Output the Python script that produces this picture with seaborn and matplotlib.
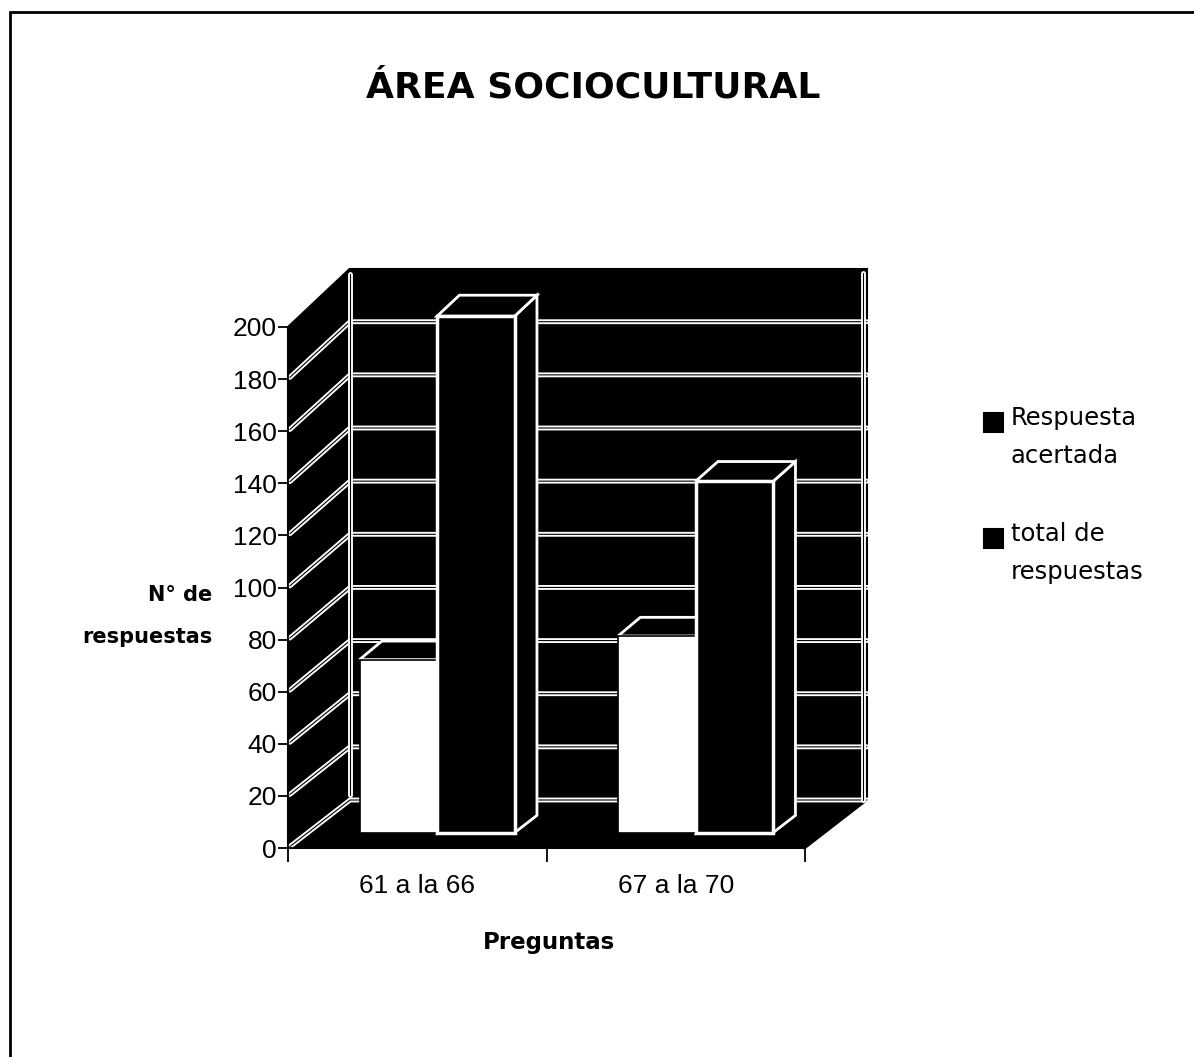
import pandas as pd
import matplotlib
matplotlib.use('Agg')
import matplotlib.pyplot as plt
import seaborn as sns
from matplotlib.patches import Polygon, Rectangle
from matplotlib.lines import Line2D
from matplotlib.transforms import Affine2D, IdentityTransform

# Data
preguntas = ['61 a la 66', '67 a la 70']
series = ['Respuesta acertada', 'total de respuestas']
acertadas = [66, 75]
totales = [197, 134]

df = pd.DataFrame({
    'pregunta': preguntas * 2,
    'serie': [series[0]] * len(preguntas) + [series[1]] * len(preguntas),
    'valor': acertadas + totales,
})

sns.set_style('white')
plt.rcParams['font.family'] = ['Liberation Sans', 'DejaVu Sans']
for k in ['text.color', 'axes.labelcolor', 'xtick.color', 'ytick.color']:
    plt.rcParams[k] = 'black'

W, H = 1194, 1057
fig = plt.figure(figsize=(W / 100, H / 100), dpi=100)
ax = fig.add_axes([288 / W, 1 - 848 / H, 517 / W, 521 / H])
ax.set_facecolor('none')

sns.barplot(data=df, x='pregunta', y='valor', hue='serie', palette=['white', 'black'],
            width=0.6, saturation=1, legend=False, ax=ax)
ax.set_xlim(-0.5, 1.5)
ax.set_ylim(0, 200)

# fake 3D: depth offset in pixels (slight perspective)
DX, DY, K = 62, 48, 1.02
y0 = ax.transData.transform((0, 0))[1]


def proj(x, v, d):
    fx, fy = ax.transData.transform((x, v))
    by = y0 + DY + (fy - y0) * K
    return (fx + DX * d, fy + (by - fy) * d)


def poly(pts, fc, ec='white', lw=2, z=1):
    ax.add_patch(Polygon(pts, closed=True, facecolor=fc, edgecolor=ec, lw=lw,
                         transform=IdentityTransform(), clip_on=False, zorder=z))


def line(pts, z=1.2):
    xs, ys = zip(*pts)
    for c, lw in (('white', 3.5), ('black', 0.8)):
        ax.add_line(Line2D(xs, ys, color=c, lw=lw, transform=IdentityTransform(),
                           clip_on=False, zorder=z))


x_lo, x_hi = ax.get_xlim()
v_top = 200
# walls and floor
poly([proj(x_lo, 0, 1), proj(x_hi, 0, 1), proj(x_hi, v_top, 1), proj(x_lo, v_top, 1)], 'black', 'black', 1.5, 0.5)
poly([proj(x_lo, 0, 0), proj(x_lo, 0, 1), proj(x_lo, v_top, 1), proj(x_lo, v_top, 0)], 'black', 'black', 1.5, 0.5)
poly([proj(x_lo, 0, 0), proj(x_hi, 0, 0), proj(x_hi, 0, 1), proj(x_lo, 0, 1)], 'black', 'black', 1.5, 0.5)

for v in range(0, 200, 20):
    line([proj(x_lo, v, 0.03), proj(x_lo, v, 1), proj(x_hi, v, 1)])
line([proj(x_lo, 2, 1), proj(x_lo, v_top - 2, 1)])
line([(proj(x_hi, 0, 1)[0] - 4, proj(x_hi, 0, 1)[1]), (proj(x_hi, v_top, 1)[0] - 4, proj(x_hi, v_top, 1)[1] - 4)])

# bars: shift front face back in depth, add top and side faces
D1, D2 = 0.32, 0.68
bars = sorted(ax.patches[:len(df)], key=lambda p: p.get_x())
for i, p in enumerate(bars):
    x0, w, h = p.get_x(), p.get_width(), p.get_height()
    z = 3 + i
    poly([proj(x0 + w, 0, D1), proj(x0 + w, h, D1), proj(x0 + w, h, D2), proj(x0 + w, 0, D2)], 'black', 'white', 2, z)
    poly([proj(x0, h, D1), proj(x0 + w, h, D1), proj(x0 + w, h, D2), proj(x0, h, D2)], 'black', 'white', 2, z)
    shift = (Affine2D().translate(0, -y0).scale(1, 1 + D1 * (K - 1))
             .translate(D1 * DX, y0 + D1 * DY))
    p.set_transform(ax.transData + shift)
    p.set_clip_on(False)
    p.set_zorder(z + 0.5)
    dark = sum(p.get_facecolor()[:3]) < 1.5
    p.set_edgecolor('white' if dark else 'black')
    p.set_linewidth(2.5 if dark else 1.2)

# axes
for s in ['top', 'right']:
    ax.spines[s].set_visible(False)
for s in ['left', 'bottom']:
    ax.spines[s].set_color('black')
    ax.spines[s].set_linewidth(1.3)
    ax.spines[s].set_zorder(10)
ax.set_yticks(range(0, 201, 20))
ax.tick_params(axis='y', direction='out', length=7, width=1.3, labelsize=19, pad=1, left=True)
ax.set_xticks([0, 1], preguntas)
ax.set_xticks([-0.5, 0.5, 1.5], minor=True)
ax.tick_params(axis='x', which='major', length=0, labelsize=19, pad=19)
ax.tick_params(axis='x', which='minor', direction='out', length=10, width=1.3, bottom=True)
ax.set_xlabel('')
ax.set_ylabel('')

bold = dict(family='DejaVu Sans', weight='bold')
fig.text(593 / W, 1 - 88 / H, 'ÁREA SOCIOCULTURAL', ha='center', va='center', fontsize=26, **bold)
fig.text(549 / W, 1 - 942 / H, 'Preguntas', ha='center', va='center', fontsize=16.5, **bold)
fig.text(212 / W, 1 - 616 / H, 'N° de\nrespuestas', ha='right', va='center', multialignment='right',
         fontsize=15, linespacing=2.4, **bold)

handles = [Rectangle((0, 0), 1, 1, facecolor='black', edgecolor='black', lw=1.5) for _ in series]
leg = fig.legend(handles, ['Respuesta\nacertada', 'total de\nrespuestas'], loc='upper left',
                 bbox_to_anchor=(962 / W, 1 - 384 / H), frameon=False, handlelength=0.8,
                 handleheight=0.8, handletextpad=0.3, labelspacing=2.2,
                 prop={'family': 'DejaVu Sans', 'size': 17.5})
for t in leg.get_texts():
    t.set_linespacing(1.75)
for hnd in leg.legend_handles:
    hnd.set_y(hnd.get_y() + 11)

# page frame (only top and left edges visible)
fig.add_artist(Rectangle((10 / W, -0.5), 2, 1.5 - 12 / H, transform=fig.transFigure,
                         fill=False, edgecolor='black', lw=2))

fig.savefig('out.png', dpi=100)
